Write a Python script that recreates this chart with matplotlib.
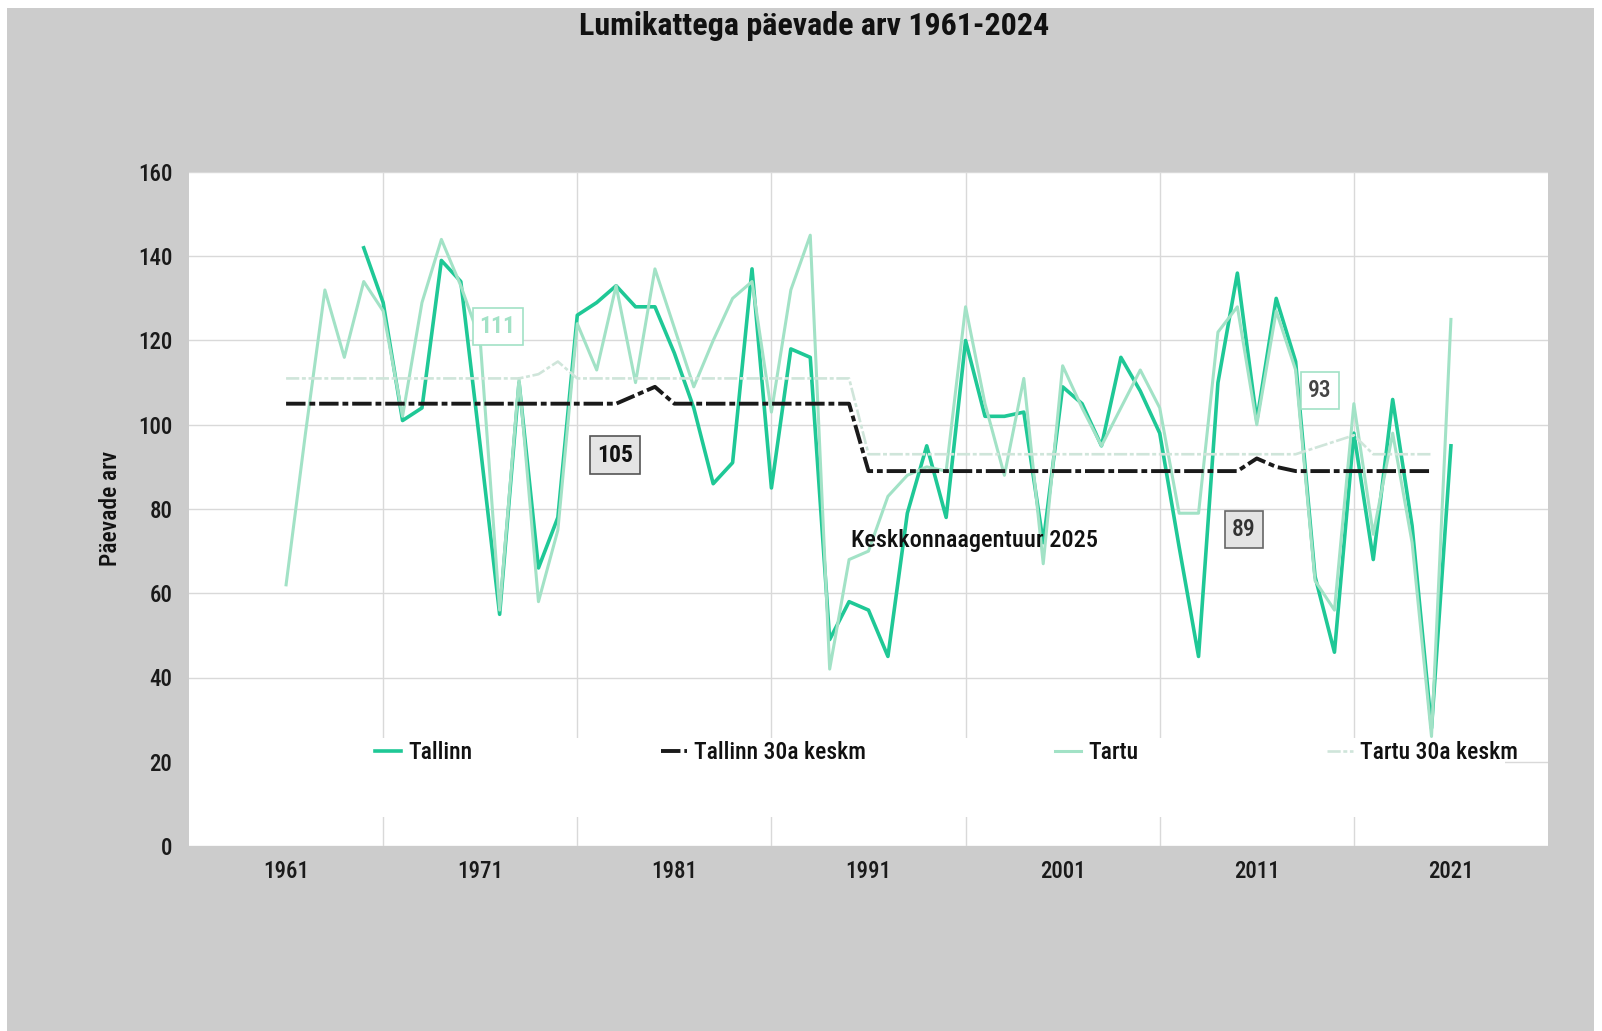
import matplotlib
matplotlib.use('Agg')
import matplotlib.pyplot as plt
from matplotlib.patches import Rectangle

plt.rcParams['font.family'] = ['Roboto Condensed', 'DejaVu Sans']
plt.rcParams['font.weight'] = 'medium'

# --- data -------------------------------------------------------------
tallinn_years = list(range(1965, 2022))
tallinn = [142, 129, 101, 104, 139, 134, 95, 55, 110, 66,
           78, 126, 129, 133, 128, 128, 117, 104, 86, 91,
           137, 85, 118, 116, 49, 58, 56, 45, 79, 95,
           78, 120, 102, 102, 103, 72, 109, 105, 95, 116,
           108, 98, 71, 45, 110, 136, 101, 130, 115, 64,
           46, 98, 68, 106, 76, 28, 95]

tartu_years = list(range(1961, 2022))
tartu = [62, 98, 132, 116, 134, 127, 102, 129, 144, 133,
         120, 56, 111, 58, 75, 124, 113, 133, 110, 137,
         123, 109, 120, 130, 134, 103, 132, 145, 42, 68,
         70, 83, 88, 90, 89, 128, 105, 88, 111, 67,
         114, 104, 95, 104, 113, 104, 79, 79, 122, 128,
         100, 127, 113, 63, 56, 105, 74, 98, 72, 26,
         125]

avg_years = list(range(1961, 2021))
tallinn_avg = [105, 105, 105, 105, 105, 105, 105, 105, 105, 105,
               105, 105, 105, 105, 105, 105, 105, 105, 107, 109,
               105, 105, 105, 105, 105, 105, 105, 105, 105, 105,
               89, 89, 89, 89, 89, 89, 89, 89, 89, 89,
               89, 89, 89, 89, 89, 89, 89, 89, 89, 89,
               92, 90, 89, 89, 89, 89, 89, 89, 89, 89]
tartu_avg = [111, 111, 111, 111, 111, 111, 111, 111, 111, 111,
             111, 111, 111, 112, 115, 111, 111, 111, 111, 111,
             111, 111, 111, 111, 111, 111, 111, 111, 111, 111,
             93, 93, 93, 93, 93, 93, 93, 93, 93, 93,
             93, 93, 93, 93, 93, 93, 93, 93, 93, 93,
             93, 93, 93, 94.5, 96, 97.5, 93, 93, 93, 93]

series_names = ['Tallinn', 'Tallinn 30a keskm', 'Tartu', 'Tartu 30a keskm']
x_ticks = [1961, 1971, 1981, 1991, 2001, 2011, 2021]
y_ticks = [0, 20, 40, 60, 80, 100, 120, 140, 160]

c_tallinn = '#1fc896'
c_tartu = '#a2e2c6'
c_tartu_avg = '#cfe5da'
c_text = '#1a1a1a'

fig = plt.figure(figsize=(16.02, 10.31), dpi=100)
fig.patch.set_facecolor('white')
fig.patches.append(Rectangle((7 / 1602, 0), 1587 / 1602, 1 - 8 / 1031,
                             transform=fig.transFigure, facecolor='#cccccc',
                             edgecolor='none', zorder=-10))

ax = fig.add_axes([189 / 1602, 1 - 846 / 1031, 1359 / 1602, 674 / 1031])
ax.set_zorder(1)
ax.set_facecolor('white')
ax.set_xlim(1956, 2026)
ax.set_ylim(0, 160)
for s in ax.spines.values():
    s.set_visible(False)

ax.set_xticks(x_ticks)
ax.set_xticks([t + 5 for t in x_ticks[:-1]], minor=True)
ax.set_yticks(y_ticks)
ax.tick_params(axis='both', which='both', length=0, labelsize=16.5,
               labelcolor=c_text)
ax.tick_params(axis='x', pad=10)
ax.tick_params(axis='y', pad=12)
ax.grid(axis='y', which='major', color='#d9d9d9', lw=1)
ax.grid(axis='x', which='minor', color='#d9d9d9', lw=1)
ax.set_axisbelow(True)

# white area behind the legend
ax.add_patch(Rectangle((0, 0.043), 0.968, 0.117, transform=ax.transAxes,
                       facecolor='white', edgecolor='none', zorder=1.5))

ax.plot(tallinn_years, tallinn, color=c_tallinn, lw=2.6, zorder=3,
        label=series_names[0])
ax.plot(avg_years, tallinn_avg, color='#1a1a1a', lw=2.8, zorder=4,
        dashes=(5, 1, 1.5, 1), label=series_names[1])
ax.plot(tartu_years, tartu, color=c_tartu, lw=2.2, zorder=3.5,
        label=series_names[2])
ax.plot(avg_years, tartu_avg, color=c_tartu_avg, lw=1.9, zorder=3.6,
        dashes=(5, 1, 1.5, 1), label=series_names[3])

# value boxes
ax.text(1971.9, 123.4, '111', ha='center', va='center', fontsize=17,
        fontweight='bold', color=c_tartu, zorder=6,
        bbox=dict(boxstyle='square,pad=0.3', fc='white', ec=c_tartu, lw=1.2))
ax.text(1977.95, 92.8, '105', ha='center', va='center', fontsize=17,
        fontweight='bold', color='#111111', zorder=6,
        bbox=dict(boxstyle='square,pad=0.3', fc='#e4e4e4', ec='#555555', lw=1.2))
ax.text(2010.33, 75.1, '89', ha='center', va='center', fontsize=17,
        color='#333333', zorder=6,
        bbox=dict(boxstyle='square,pad=0.3', fc='#e4e4e4', ec='#666666', lw=1.2))
ax.text(2014.24, 108.2, '93', ha='center', va='center', fontsize=17,
        color='#444444', zorder=6,
        bbox=dict(boxstyle='square,pad=0.3', fc='white', ec=c_tartu, lw=1.2))

ax.text(1990.1, 72.6, 'Keskkonnaagentuur 2025', ha='left', va='center',
        fontsize=17.5, color='#111111', zorder=7)

leg = ax.legend(loc='center', bbox_to_anchor=(0.5575, 0.139), ncol=4,
                frameon=False, fontsize=17, handlelength=1.1,
                handletextpad=0.3, columnspacing=8.0)
for t in leg.get_texts():
    t.set_color('#111111')
leg.set_zorder(8)

fig.text(0.508, 0.975, 'Lumikattega päevade arv 1961-2024', ha='center',
         va='center', fontsize=23, fontweight='bold', color='#111111')
fig.text(0.069, 1 - 508 / 1031, 'Päevade arv', rotation=90, ha='center',
         va='center', fontsize=17, color='#111111')

fig.savefig('out.png', dpi=100, facecolor=fig.get_facecolor())
